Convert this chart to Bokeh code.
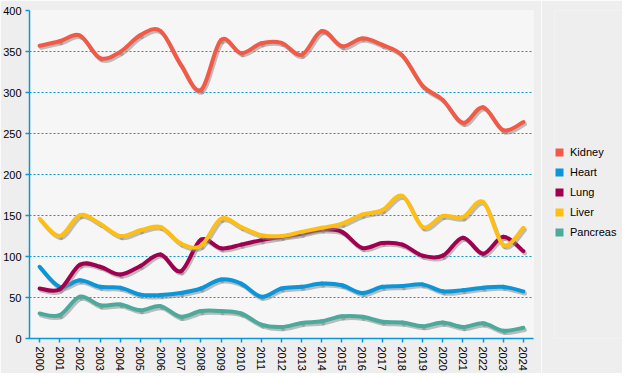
import numpy as np
from bokeh.plotting import figure
from bokeh.layouts import row
from bokeh.models import Range1d, Legend, LegendItem
from bokeh.embed import file_html
from bokeh.resources import INLINE

years = list(range(2000, 2025))
year_labels = [str(y) for y in years]
y_ticks = [0, 50, 100, 150, 200, 250, 300, 350, 400]

kidney = [357, 362.5, 369.5, 342, 349.5, 370, 375, 334, 303, 364, 348, 360, 360.5, 346,
          375, 356.5, 366, 358, 345, 308, 291, 263, 282, 254, 264]
heart = [87.5, 63, 71, 63, 62, 53.5, 53, 55.5, 61, 72, 67, 51, 61, 63,
         67, 65, 55.5, 63, 64, 66, 57.5, 59, 62, 63, 57.5]
lung = [61, 60, 90, 87.5, 78, 88.5, 102.5, 82, 120.5, 110, 114.5, 120, 124, 128,
        133, 130, 110.5, 116.5, 114.5, 101, 101, 123, 103.5, 124, 106.5]
liver = [146, 125, 150.5, 140, 125, 132, 136, 116, 113, 146, 136, 126, 125, 130,
         135, 140, 151, 156.5, 174, 136, 149.5, 148, 166.5, 114, 135]
pancreas = [30.5, 28.5, 51, 40.5, 41.5, 34.5, 39.5, 26.5, 33.5, 33.5, 30.5, 17, 14, 19,
            21, 27, 26.5, 20.5, 19.5, 15, 19.5, 14, 18.5, 9.5, 13]

series_names = ["Kidney", "Heart", "Lung", "Liver", "Pancreas"]
series_values = [kidney, heart, lung, liver, pancreas]
series_colors = ["#f25a46", "#0a96d8", "#a0004f", "#ffbe12", "#4caa9d"]

BLUE = "#0a96d8"
FONT = "Liberation Sans"
H = 373

p = figure(width=541, height=H,
           x_range=Range1d(1999.5, 2024.5), y_range=Range1d(0, 400),
           output_backend="svg", toolbar_location=None,
           min_border_left=27, min_border_right=8, min_border_top=10, min_border_bottom=20,
           background_fill_color="#f6f6f6", border_fill_color="#eeeeee",
           outline_line_color=None)

# axes
p.xaxis.ticker = years
p.xaxis.major_label_overrides = {y: s for y, s in zip(years, year_labels)}
p.xaxis.major_label_orientation = "vertical"
p.yaxis.ticker = y_ticks
for ax in (p.xaxis[0], p.yaxis[0]):
    ax.axis_line_color = BLUE
    ax.axis_line_width = 1.5
    ax.major_tick_line_color = BLUE
    ax.major_tick_line_width = 1.5
    ax.major_tick_out = 4
    ax.major_tick_in = 0
    ax.minor_tick_line_color = None
    ax.major_label_text_font = FONT
    ax.major_label_text_font_size = "11px"
    ax.major_label_text_color = "#000000"
    ax.major_label_standoff = 4

p.xgrid.visible = False
p.ygrid.grid_line_color = BLUE
p.ygrid.grid_line_dash = "2 2"
p.ygrid.grid_line_width = 1

# shadow ranges (shifted a couple of pixels right/down)
p.extra_x_ranges = {"sx": Range1d(1999.5 - 0.075, 2024.5 - 0.075)}
p.extra_y_ranges = {"sy": Range1d(2.6, 402.6)}


def catmull(xs, ys):
    xs = np.asarray(xs, float)
    ys = np.asarray(ys, float)
    xp = np.concatenate([[xs[0]], xs, [xs[-1]]])
    yp = np.concatenate([[ys[0]], ys, [ys[-1]]])
    n = len(xs) - 1
    d = {}
    d["x0"] = xs[:-1]
    d["y0"] = ys[:-1]
    d["x1"] = xs[1:]
    d["y1"] = ys[1:]
    d["cx0"] = xs[:-1] + (xp[2:n + 2] - xp[0:n]) / 6.0
    d["cy0"] = ys[:-1] + (yp[2:n + 2] - yp[0:n]) / 6.0
    d["cx1"] = xs[1:] - (xp[3:n + 3] - xp[1:n + 1]) / 6.0
    d["cy1"] = ys[1:] - (yp[3:n + 3] - yp[1:n + 1]) / 6.0
    return d


for name, vals, col in zip(series_names, series_values, series_colors):
    seg = catmull(years, vals)
    p.bezier(line_color="#8a8a8a", line_alpha=0.55, line_width=4, line_cap="round",
             x_range_name="sx", y_range_name="sy", **seg)
    p.bezier(line_color=col, line_width=4, line_cap="round", **seg)

# legend panel as a small companion figure (frame aligned with the main frame)
lf = figure(width=81, height=H, x_range=Range1d(0, 1), y_range=Range1d(0, 1),
            output_backend="svg", toolbar_location=None,
            min_border_left=13, min_border_right=0, min_border_top=10, min_border_bottom=0,
            background_fill_color="#eeeeee", border_fill_color="#eeeeee",
            outline_line_color=None)
lf.axis.visible = False
lf.grid.visible = False

legend_items = []
for name, vals, col in zip(series_names, series_values, series_colors):
    # zero-size swatch renderer (draws nothing, provides the legend box)
    swatch = lf.quad(left=years[:1], right=years[:1], top=vals[:1], bottom=vals[:1],
                     fill_color=col, line_color=None)
    legend_items.append(LegendItem(label=name, renderers=[swatch]))

legend = Legend(items=legend_items, location="top_left",
                title=" ", title_text_font_size="11px", title_standoff=120,
                glyph_width=10, glyph_height=10, label_standoff=6, label_height=20,
                spacing=0, padding=0, margin=0, border_line_color=None,
                background_fill_alpha=0, label_text_font=FONT,
                label_text_font_size="11px", label_text_color="#000000")
lf.add_layout(legend)

layout = row(p, lf, spacing=0)

open("out.html", "w").write(file_html(layout, INLINE))
